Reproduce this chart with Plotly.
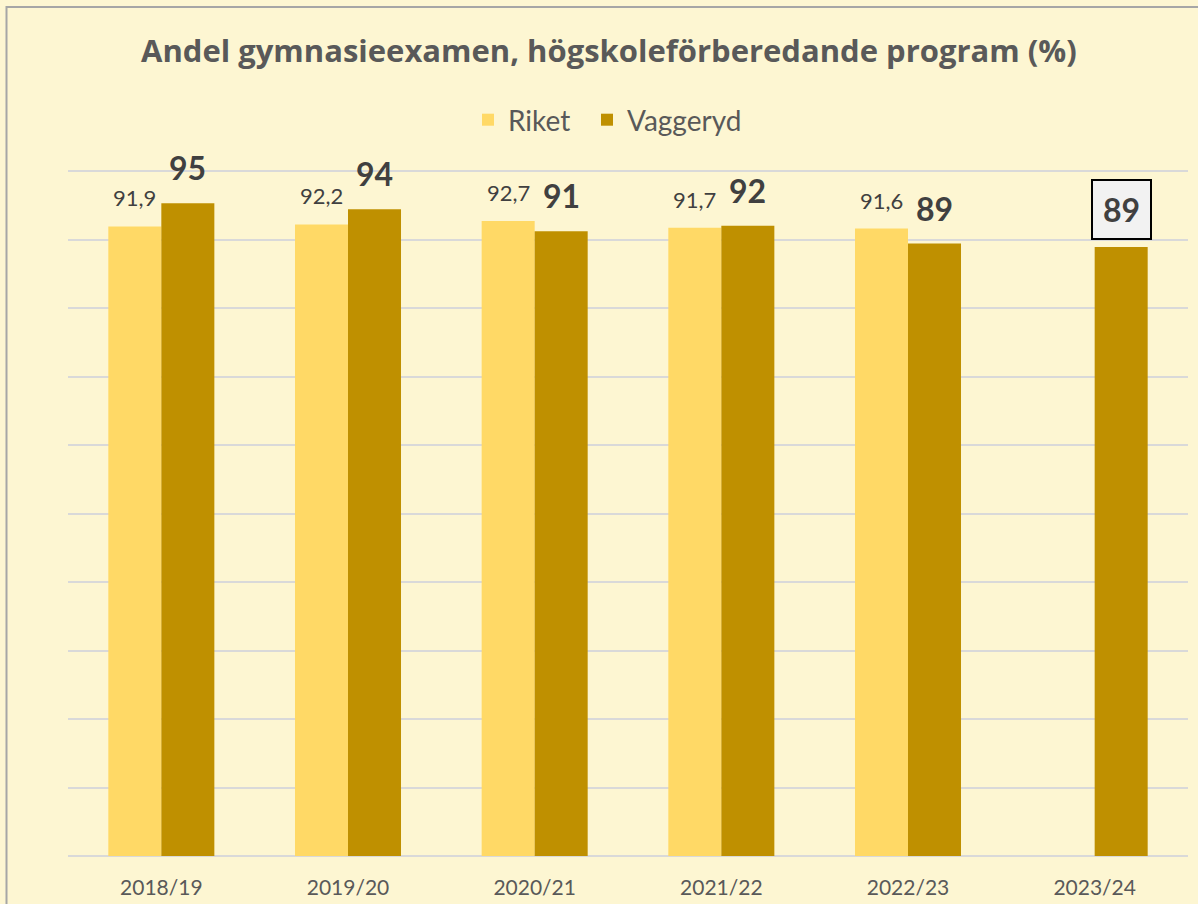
import plotly.graph_objects as go

categories = ["2018/19", "2019/20", "2020/21", "2021/22", "2022/23", "2023/24"]
riket = [91.9, 92.2, 92.7, 91.7, 91.6, None]
vaggeryd = [95.3, 94.4, 91.2, 92.0, 89.4, 88.9]
highlight = [False, False, False, False, False, True]

BG = "#FDF6D2"
C_RIKET = "#FFD966"
C_VAGG = "#BF9000"
TXT = "#595959"
LBL = "#404040"
FONT = "Lato"

TOP = 169
PH = 856 - TOP  # plot height in px


def py(px):
    return (856 - px) / PH


def px_x(px):
    return (px - 68) / 1120


fig = go.Figure()
fig.add_trace(go.Bar(name="Riket", x=categories, y=riket, marker_color=C_RIKET,
                     marker_line_width=0, hoverinfo="x+y", legend="legend"))
fig.add_trace(go.Bar(name="Vaggeryd", x=categories, y=vaggeryd, marker_color=C_VAGG,
                     marker_line_width=0, hoverinfo="x+y", legend="legend2"))

annotations = []
for cat, v in zip(categories, riket):
    if v is None:
        continue
    annotations.append(dict(x=cat, y=v, xref="x", yref="y", xshift=-26.5, yshift=13,
                            yanchor="bottom", showarrow=False,
                            text=f"{v:.1f}".replace(".", ","),
                            font=dict(family=FONT, size=22, color=LBL)))
for cat, v, hl in zip(categories, vaggeryd, highlight):
    a = dict(x=cat, y=v, xref="x", yref="y", xshift=26.5, yshift=14,
             yanchor="bottom", showarrow=False, text=f"{v:.0f}",
             font=dict(family=FONT, size=32, color=LBL, weight="bold"))
    if hl:
        a.update(bordercolor="#000000", borderwidth=2, bgcolor="#F2F2F2",
                 width=57, height=57, borderpad=0, yshift=7)
    annotations.append(a)

annotations.append(dict(text="Andel gymnasieexamen, högskoleförberedande program (%)",
                        xref="paper", yref="paper", x=px_x(609), y=py(50),
                        xanchor="center", yanchor="middle", showarrow=False,
                        font=dict(family="Open Sans", size=31, color=TXT, weight="bold")))

legend_common = dict(orientation="h", xanchor="left", yanchor="middle",
                     y=py(120),
                     font=dict(family=FONT, size=28, color=TXT),
                     bgcolor="rgba(0,0,0,0)", itemclick=False, itemdoubleclick=False)

fig.update_layout(
    width=1198, height=904,
    paper_bgcolor=BG, plot_bgcolor=BG,
    margin=dict(l=68, r=10, t=TOP, b=48, autoexpand=False),
    barmode="group", bargap=0.432, bargroupgap=0,
    separators=", ",
    font=dict(family=FONT, color=TXT),
    showlegend=True,
    legend=dict(x=px_x(468), **legend_common),
    legend2=dict(x=px_x(587), **legend_common),
    annotations=annotations,
    shapes=[dict(type="rect", xref="paper", yref="paper",
                 x0=px_x(6.5), x1=1.2, y0=-0.2, y1=py(7),
                 line=dict(color="#A6A6A6", width=2), fillcolor="rgba(0,0,0,0)", layer="below")],
    xaxis=dict(showline=False, ticks="", showgrid=False,
               tickfont=dict(family=FONT, size=21, color=TXT), ticklabelstandoff=17),
    yaxis=dict(range=[0, 100 * PH / 685], tickvals=[0, 10, 20, 30, 40, 50, 60, 70, 80, 90, 100],
               showticklabels=False, ticks="",
               showgrid=True, gridcolor="#D9D9D9", gridwidth=1.5,
               zeroline=True, zerolinecolor="#D9D9D9", zerolinewidth=1.5, showline=False),
)

fig.write_html("out.html", config={"displayModeBar": False},
               post_script="document.body.style.margin='0';")
